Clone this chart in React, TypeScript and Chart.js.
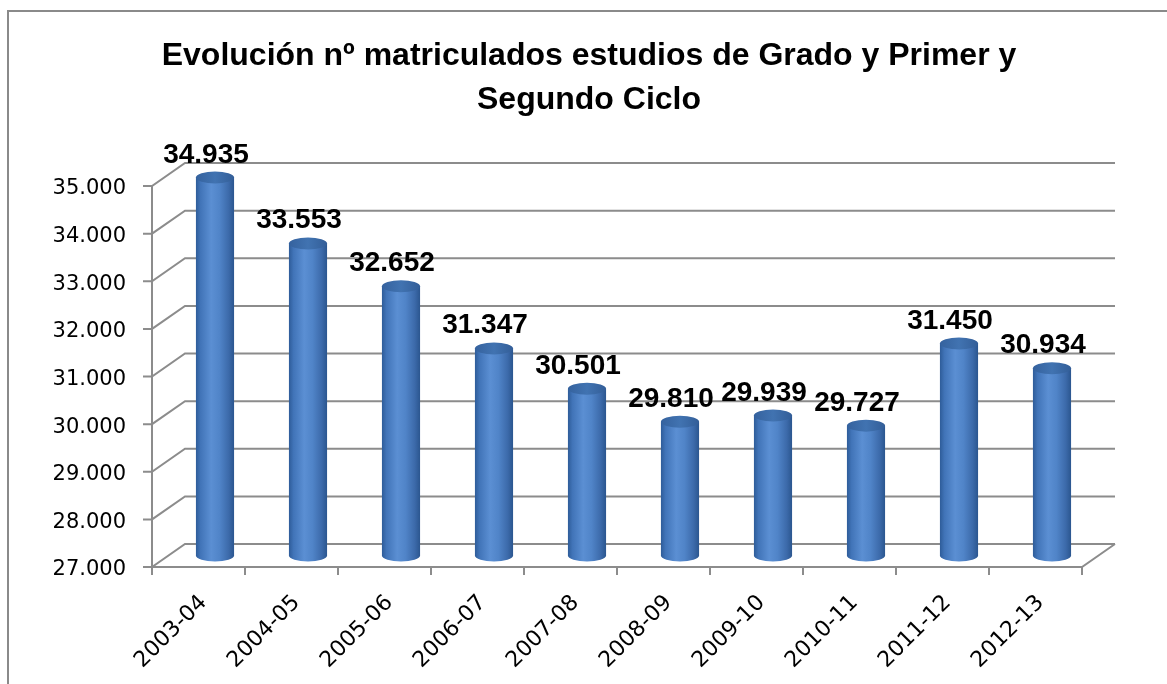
import React, { useEffect, useRef } from 'react';
import { Chart, registerables } from 'chart.js';

Chart.register(...registerables);

// ---- data ----
const categories = ['2003-04', '2004-05', '2005-06', '2006-07', '2007-08', '2008-09', '2009-10', '2010-11', '2011-12', '2012-13'];
const enrolled = [34935, 33553, 32652, 31347, 30501, 29810, 29939, 29727, 31450, 30934];
const yMin = 27000;
const yMax = 35000;
const yStep = 1000;
const titleLines = ['Evolución nº matriculados estudios de Grado y Primer y', 'Segundo Ciclo'];

// ---- style ----
const DEPTH_X = 33;
const DEPTH_Y = -23;
const GRID = '#8c8c8c';
const CANVAS_W = 1178;
const CANVAS_H = 684;

const fmt = (v: number) => String(Math.round(v)).replace(/\B(?=(\d{3})+(?!\d))/g, '.');

const wallPlugin = {
  id: 'wall3d',
  beforeDatasetsDraw(chart: any) {
    const { ctx, chartArea: a, scales } = chart;
    const x = scales.x;
    const y = scales.y;
    ctx.save();
    ctx.strokeStyle = GRID;
    ctx.lineWidth = 2;
    ctx.lineJoin = 'miter';
    // back wall gridlines with side diagonals + y tick marks
    y.ticks.forEach((t: any) => {
      const py = y.getPixelForValue(t.value);
      ctx.beginPath();
      ctx.moveTo(a.left - 9, py);
      ctx.lineTo(a.left, py);
      ctx.lineTo(a.left + DEPTH_X, py + DEPTH_Y);
      ctx.lineTo(a.right + DEPTH_X, py + DEPTH_Y);
      ctx.stroke();
    });
    // front vertical axis
    const topY = y.getPixelForValue(yMax);
    const baseY = y.getPixelForValue(yMin);
    ctx.beginPath();
    ctx.moveTo(a.left, topY);
    ctx.lineTo(a.left, baseY);
    ctx.stroke();
    // floor front edge + right diagonal
    ctx.beginPath();
    ctx.moveTo(a.left, baseY);
    ctx.lineTo(a.right, baseY);
    ctx.lineTo(a.right + DEPTH_X, baseY + DEPTH_Y);
    ctx.stroke();
    // category boundary ticks
    const half = (x.getPixelForValue(1) - x.getPixelForValue(0)) / 2;
    for (let i = 0; i <= categories.length; i++) {
      const px = Math.round(x.getPixelForValue(i) - half);
      ctx.beginPath();
      ctx.moveTo(px, baseY);
      ctx.lineTo(px, baseY + 8);
      ctx.stroke();
    }
    ctx.restore();
  },
  afterDatasetsDraw(chart: any) {
    const { ctx } = chart;
    const meta = chart.getDatasetMeta(0);
    ctx.save();
    meta.data.forEach((el: any, i: number) => {
      const p = el.getProps(['x', 'y', 'base', 'width'], true);
      const cx = p.x + DEPTH_X / 2;
      const top = p.y + DEPTH_Y / 2;
      const bot = p.base + DEPTH_Y / 2;
      const rx = p.width / 2;
      const ry = 6;
      // body
      const g = ctx.createLinearGradient(cx - rx, 0, cx + rx, 0);
      g.addColorStop(0, '#2e5c99');
      g.addColorStop(0.12, '#4174b8');
      g.addColorStop(0.4, '#5b8fd3');
      g.addColorStop(0.62, '#5084c8');
      g.addColorStop(0.86, '#3c6aaa');
      g.addColorStop(1, '#2b568f');
      ctx.beginPath();
      ctx.moveTo(cx - rx, top);
      ctx.lineTo(cx - rx, bot);
      ctx.ellipse(cx, bot, rx, ry, 0, Math.PI, 0, true);
      ctx.lineTo(cx + rx, top);
      ctx.closePath();
      ctx.fillStyle = g;
      ctx.fill();
      // top cap
      const gc = ctx.createLinearGradient(cx - rx, 0, cx + rx, 0);
      gc.addColorStop(0, '#35629e');
      gc.addColorStop(0.5, '#4173b1');
      gc.addColorStop(1, '#335e98');
      ctx.beginPath();
      ctx.ellipse(cx, top, rx, ry, 0, 0, Math.PI * 2);
      ctx.fillStyle = gc;
      ctx.fill();
      // value label
      ctx.fillStyle = '#000';
      ctx.font = 'bold 28px "Liberation Sans", Arial, sans-serif';
      ctx.textAlign = 'center';
      ctx.textBaseline = 'alphabetic';
      ctx.fillText(fmt(enrolled[i]), cx - 9, top - 15);
    });
    ctx.restore();
  },
};

export default function App() {
  const ref = useRef<HTMLCanvasElement>(null);
  useEffect(() => {
    if (!ref.current) return;
    const chart = new Chart(ref.current, {
      type: 'bar',
      data: {
        labels: categories,
        datasets: [
          {
            data: enrolled,
            base: yMin,
            backgroundColor: 'rgba(0,0,0,0)',
            borderWidth: 0,
            barPercentage: 0.41,
            categoryPercentage: 1,
            clip: false as any,
          },
        ],
      },
      options: {
        responsive: false,
        animation: false,
        devicePixelRatio: 1,
        layout: { padding: 0, autoPadding: false } as any,
        plugins: {
          legend: { display: false },
          tooltip: { enabled: false },
          title: {
            display: true,
            text: titleLines,
            color: '#000',
            font: { family: '"Liberation Sans", Arial, sans-serif', size: 32, weight: 'bold', lineHeight: 44 / 32 },
            padding: { top: 34.5, bottom: 63.5 },
          },
        },
        scales: {
          x: {
            type: 'category',
            grid: { display: false, drawTicks: false },
            border: { display: false },
            ticks: {
              autoSkip: false,
              minRotation: 45,
              maxRotation: 45,
              padding: 23,
              labelOffset: 5,
              color: '#000',
              font: { family: '"DejaVu Sans", sans-serif', size: 22 },
            },
            afterFit(s: any) {
              s.height = CANVAS_H - 567;
            },
          },
          y: {
            type: 'linear',
            position: 'left',
            min: yMin,
            max: yMax,
            grid: { display: false, drawTicks: false },
            border: { display: false },
            ticks: {
              stepSize: yStep,
              padding: 26,
              labelOffset: 3,
              color: '#000',
              font: { family: '"DejaVu Sans", sans-serif', size: 21 },
              callback: (v: any) => fmt(Number(v)),
            },
            afterFit(s: any) {
              s.width = 152;
            },
          },
          yR: {
            type: 'linear',
            position: 'right',
            display: true,
            grid: { display: false, drawTicks: false },
            border: { display: false },
            ticks: { display: false },
            afterFit(s: any) {
              s.width = CANVAS_W - 1082;
            },
          },
        },
      },
      plugins: [wallPlugin],
    } as any);
    return () => chart.destroy();
  }, []);

  return (
    <div style={{ position: 'fixed', left: 0, top: 0, width: '100vw', height: '100vh', overflow: 'hidden', background: '#fff' }}>
      <div
        style={{
          position: 'absolute',
          left: 7,
          top: 10,
          width: 1200,
          height: 720,
          border: '2px solid #8a8a8a',
          boxSizing: 'border-box',
        }}
      />
      <canvas
        ref={ref}
        width={CANVAS_W}
        height={CANVAS_H}
        style={{ position: 'absolute', left: 0, top: 0, width: CANVAS_W, height: CANVAS_H }}
      />
    </div>
  );
}
